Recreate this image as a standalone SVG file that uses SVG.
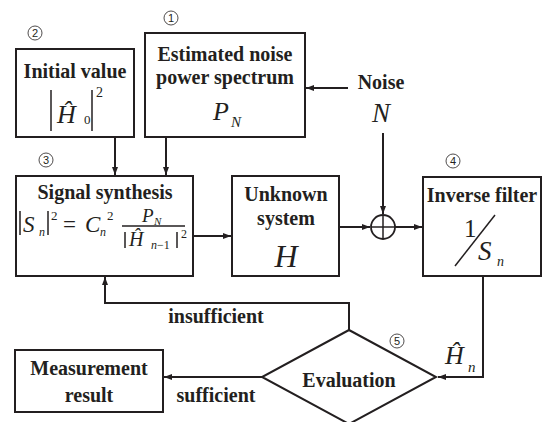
<svg xmlns="http://www.w3.org/2000/svg" width="543" height="422" viewBox="0 0 543 422">
<style>
.box{fill:#fff;stroke:#231f20;stroke-width:2}
.lbl{font-family:"Liberation Serif","Times New Roman","DejaVu Serif",serif;font-weight:bold;font-size:20px;fill:#231f20;text-anchor:middle}
.m{font-family:"Liberation Serif","Times New Roman","DejaVu Serif",serif;font-style:italic;fill:#231f20}
.up{font-style:normal}
.num{font-family:"Liberation Sans",Arial,sans-serif;font-size:11px;fill:#231f20;text-anchor:middle}
.nc{fill:none;stroke:#231f20;stroke-width:0.8}
.c{fill:none;stroke:#231f20;stroke-width:2}
.bar{stroke:#231f20;stroke-width:1.5}
</style>
<defs>
<marker id="ah" markerUnits="userSpaceOnUse" markerWidth="9" markerHeight="7" refX="8" refY="3" orient="auto">
<path d="M0,0 L8,3 L0,6 z" fill="#231f20"/>
</marker>
</defs>

<g id="connectors">
<path class="c" d="M348,88 L306,88" marker-end="url(#ah)"/>
<path class="c" d="M383,133 L383,214" marker-end="url(#ah)"/>
<path class="c" d="M115,137 L115,175" marker-end="url(#ah)"/>
<path class="c" d="M166,137 L166,175" marker-end="url(#ah)"/>
<path class="c" d="M193,236 L231,236" marker-end="url(#ah)"/>
<path class="c" d="M339,227 L370,227" marker-end="url(#ah)"/>
<path class="c" d="M395,227 L422,227" marker-end="url(#ah)"/>
<path class="c" d="M483,276 L483,377 L438,377" marker-end="url(#ah)"/>
<path class="c" d="M349,330 L349,303 L105,303 L105,277" marker-end="url(#ah)"/>
<path class="c" d="M262,377 L164,377" marker-end="url(#ah)"/>
<text class="lbl" x="216" y="323">insufficient</text>
<text class="lbl" x="216" y="402">sufficient</text>
</g>

<g id="initial">
<rect class="box" x="16" y="49" width="118" height="88"/>
<text class="lbl" x="75" y="78">Initial value</text>
<line class="bar" x1="51" y1="90" x2="51" y2="131"/>
<line class="bar" x1="92" y1="90" x2="92" y2="131"/>
<text class="m" font-size="26"><tspan x="57" y="123">Ĥ</tspan><tspan class="up" x="84" y="124" font-size="13">0</tspan><tspan class="up" x="96" y="97" font-size="14">2</tspan></text>
<circle class="nc" cx="35" cy="33" r="7"/>
<text class="num" x="35" y="37">2</text>
</g>

<g id="estimated">
<rect class="box" x="145" y="33" width="160" height="104"/>
<text class="lbl" x="225" y="61">Estimated noise</text>
<text class="lbl" x="225" y="84">power spectrum</text>
<text class="m" font-size="26"><tspan x="213" y="120">P</tspan><tspan x="231" y="127" font-size="15">N</tspan></text>
<circle class="nc" cx="171" cy="18" r="7"/>
<text class="num" x="171" y="22">1</text>
</g>

<g id="noise">
<text class="lbl" x="381" y="89">Noise</text>
<text class="m" x="381" y="122" font-size="27" text-anchor="middle">N</text>
</g>

<g id="signal">
<rect class="box" x="16" y="176" width="177" height="100"/>
<text class="lbl" x="105" y="199">Signal synthesis</text>
<line class="bar" x1="20" y1="211" x2="20" y2="235"/>
<line class="bar" x1="48" y1="211" x2="48" y2="235"/>
<line class="bar" x1="122" y1="226" x2="185" y2="226" stroke-width="1"/>
<line class="bar" x1="125" y1="232" x2="125" y2="248" stroke-width="1.2"/>
<line class="bar" x1="177" y1="232" x2="177" y2="248" stroke-width="1.2"/>
<text class="m" font-size="23"><tspan x="23" y="232">S</tspan><tspan x="39" y="236" font-size="12">n</tspan><tspan class="up" x="51" y="220" font-size="13">2</tspan><tspan class="up" x="63" y="232">=</tspan><tspan x="85" y="232">C</tspan><tspan x="100" y="236" font-size="12">n</tspan><tspan class="up" x="107" y="220" font-size="13">2</tspan></text>
<text class="m" font-size="19"><tspan x="142" y="222">P</tspan><tspan x="154" y="225" font-size="11">N</tspan></text>
<text class="m" font-size="20"><tspan x="129" y="246">Ĥ</tspan><tspan x="151" y="249" font-size="12">n</tspan><tspan class="up" x="157" y="249" font-size="12">−1</tspan><tspan class="up" x="181" y="238" font-size="12">2</tspan></text>
<circle class="nc" cx="46" cy="160" r="7"/>
<text class="num" x="46" y="164">3</text>
</g>

<g id="unknown">
<rect class="box" x="232" y="176" width="107" height="100"/>
<text class="lbl" x="286" y="201">Unknown</text>
<text class="lbl" x="286" y="225">system</text>
<text class="m" x="286" y="267" font-size="32" text-anchor="middle">H</text>
</g>

<g id="sum">
<circle cx="383" cy="227" r="12" fill="#fff" stroke="#231f20" stroke-width="1.8"/>
<line class="bar" x1="371" y1="227" x2="395" y2="227"/>
<line class="bar" x1="383" y1="215" x2="383" y2="239"/>
</g>

<g id="inverse">
<rect class="box" x="423" y="177" width="118" height="99"/>
<text class="lbl" x="482" y="202">Inverse filter</text>
<line class="bar" x1="455" y1="266" x2="495" y2="215" stroke-width="1.3"/>
<text class="m" font-size="27"><tspan class="up" x="464" y="237" font-size="25">1</tspan><tspan x="478" y="260">S</tspan><tspan x="497" y="266" font-size="14">n</tspan></text>
<circle class="nc" cx="453" cy="161" r="7"/>
<text class="num" x="453" y="165">4</text>
</g>

<g id="evaluation">
<path class="box" d="M349,330 L436,377 L349,424 L262,377 z"/>
<text class="lbl" x="349" y="387">Evaluation</text>
<circle class="nc" cx="397" cy="341" r="7"/>
<text class="num" x="397" y="345">5</text>
<text class="m" font-size="26"><tspan x="445" y="364">Ĥ</tspan><tspan x="468" y="372" font-size="15">n</tspan></text>
</g>

<g id="measurement">
<rect class="box" x="15" y="350" width="148" height="62"/>
<text class="lbl" x="89" y="375">Measurement</text>
<text class="lbl" x="89" y="402">result</text>
</g>
</svg>
